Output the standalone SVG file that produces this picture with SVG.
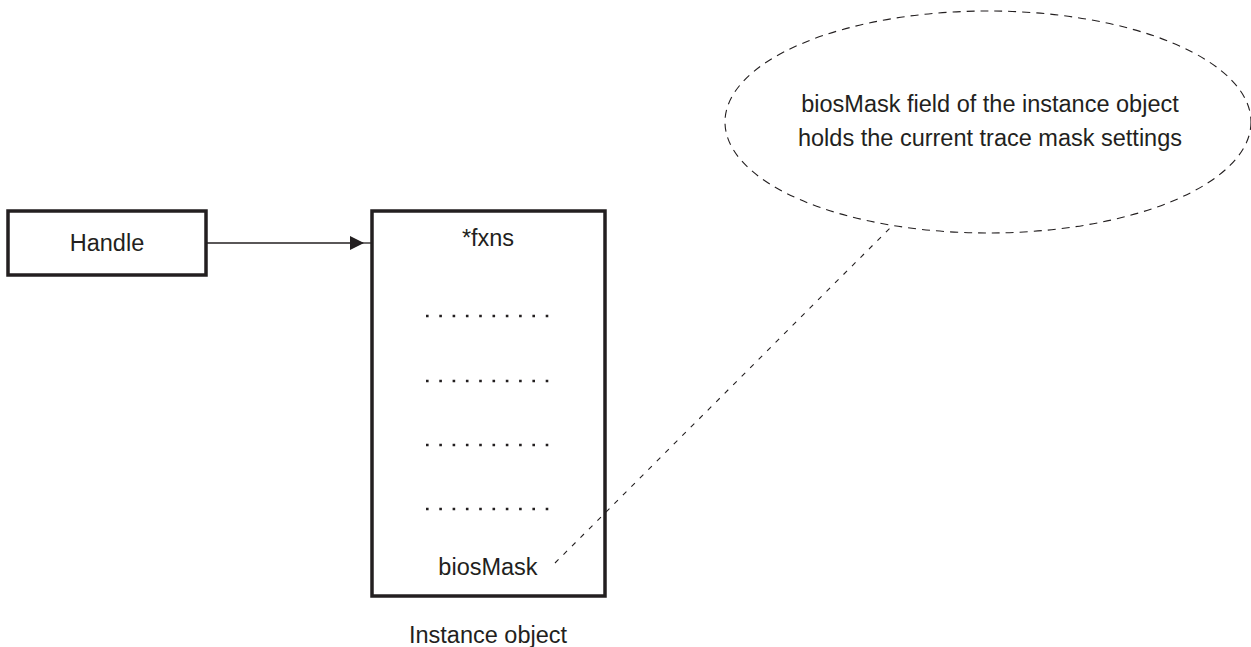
<svg xmlns="http://www.w3.org/2000/svg" width="1251" height="647" viewBox="0 0 1251 647">
  <style>
    .box { fill: none; stroke: #231f20; stroke-width: 3.5; }
    .lbl { font-family: "Liberation Sans", Arial, sans-serif; font-size: 23.5px; fill: #231f20; text-anchor: middle; }
    .dots { stroke: #231f20; stroke-width: 2.6; stroke-dasharray: 2.6 10.7; }
    .dash { fill: none; stroke: #231f20; stroke-width: 1.1; }
  </style>
  <defs>
    <marker id="arrowhead" viewBox="0 0 14 14" refX="13" refY="7" markerWidth="14" markerHeight="14" markerUnits="userSpaceOnUse" orient="auto">
      <path d="M0,0 L14,7 L0,14 Z" fill="#231f20"/>
    </marker>
  </defs>

  <rect width="1251" height="647" fill="#ffffff"/>

  <!-- handle -->
  <g id="handle">
    <rect class="box" x="8" y="211" width="198" height="64"/>
    <text class="lbl" x="107" y="251">Handle</text>
  </g>

  <!-- instance object -->
  <g id="instance-object">
    <rect class="box" x="372" y="211" width="233" height="385"/>
    <text class="lbl" x="488" y="246">*fxns</text>
    <line class="dots" x1="426" y1="316" x2="550" y2="316"/>
    <line class="dots" x1="426" y1="381" x2="550" y2="381"/>
    <line class="dots" x1="426" y1="445" x2="550" y2="445"/>
    <line class="dots" x1="426" y1="509" x2="550" y2="509"/>
    <text class="lbl" x="488" y="575">biosMask</text>
    <text class="lbl" x="488" y="643">Instance object</text>
  </g>

  <!-- callout note -->
  <g id="note">
    <ellipse class="dash" cx="988" cy="122" rx="263" ry="111" stroke-dasharray="8 6"/>
    <text class="lbl" x="990" y="112">biosMask field of the instance object</text>
    <text class="lbl" x="990" y="146">holds the current trace mask settings</text>
  </g>

  <!-- connectors -->
  <g id="connectors">
    <line x1="206" y1="243" x2="363" y2="243" stroke="#231f20" stroke-width="1.3" marker-end="url(#arrowhead)"/>
    <line x1="363" y1="243" x2="372" y2="243" stroke="#231f20" stroke-width="1.3"/>
    <line class="dash" x1="555" y1="563" x2="893" y2="225" stroke-dasharray="5 7"/>
  </g>
</svg>
